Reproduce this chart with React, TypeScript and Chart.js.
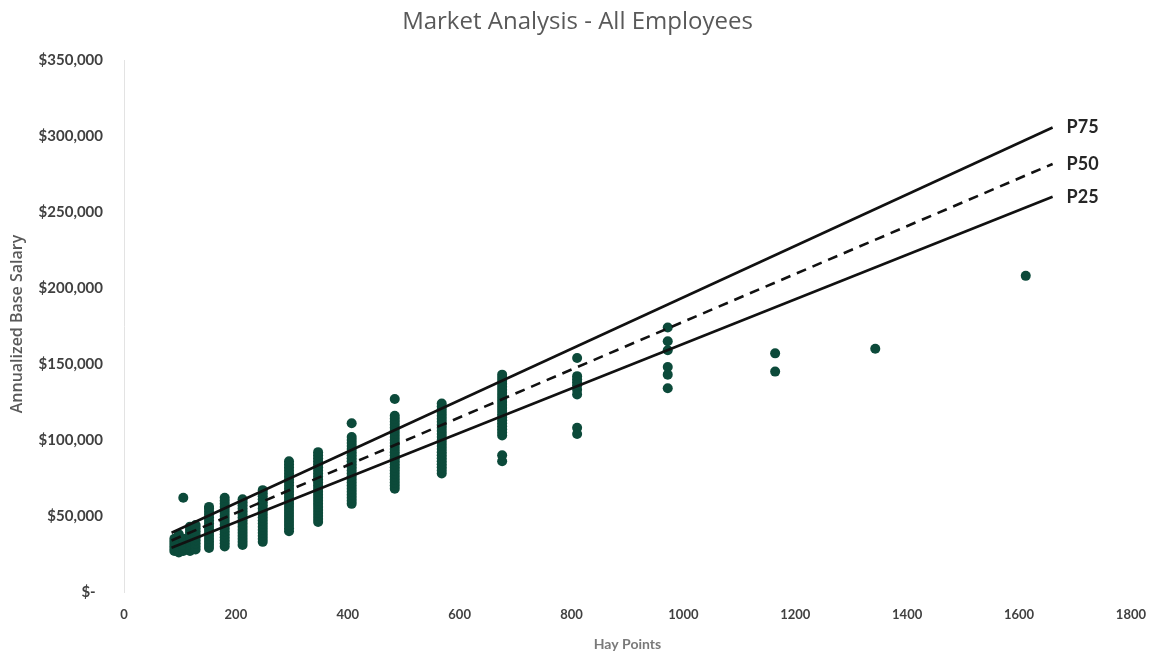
import { useEffect, useRef } from 'react';
import { Chart, registerables } from 'chart.js';

Chart.register(...registerables);

// Text
const chartTitle = 'Market Analysis - All Employees';
const xAxisTitle = 'Hay Points';
const yAxisTitle = 'Annualized Base Salary';

// Axis ranges / tick steps
const xRange = [0, 1800];
const xStep = 200;
const yRange = [0, 350000];
const yStep = 50000;

// Employees grouped by job size (Hay points); salaries in $ thousands
const hayPoints = [90, 98, 106, 118, 128, 152, 180, 212, 248, 295, 347, 407, 484, 568, 676, 810, 972, 1164, 1343, 1612];
const salariesK = [
  [27, 29, 31, 33, 35],
  [26, 28, 30, 32, 34, 36, 38],
  [62, 27, 29, 31, 33, 35],
  [27, 29, 31, 33, 35, 37, 39, 41, 43],
  [28, 30, 32, 34, 36, 38, 40, 42, 44],
  [29, 31, 33, 35, 37, 39, 41, 43, 45, 47, 49, 51, 53, 55, 56],
  [30, 32, 34, 36, 38, 40, 42, 44, 46, 48, 50, 52, 54, 56, 58, 60, 62],
  [31, 33, 35, 37, 39, 41, 43, 45, 47, 49, 51, 53, 55, 57, 59, 61],
  [33, 35, 37, 39, 41, 43, 45, 47, 49, 51, 53, 55, 57, 59, 61, 63, 65, 67],
  [40, 42, 44, 46, 48, 50, 52, 54, 56, 58, 60, 62, 64, 66, 68, 70, 72, 74, 76, 78, 80, 82, 84, 86],
  [46, 48, 50, 52, 54, 56, 58, 60, 62, 64, 66, 68, 70, 72, 74, 76, 78, 80, 82, 84, 86, 88, 90, 92],
  [58, 60, 62, 64, 66, 68, 70, 72, 74, 76, 78, 80, 82, 84, 86, 88, 90, 92, 94, 96, 98, 100, 102, 111],
  [68, 70, 72, 74, 76, 78, 80, 82, 84, 86, 88, 90, 92, 94, 96, 98, 100, 102, 104, 106, 108, 110, 112, 114, 116, 127],
  [78, 80, 82, 84, 86, 88, 90, 92, 94, 96, 98, 100, 102, 104, 106, 108, 110, 112, 114, 116, 118, 120, 122, 124],
  [86, 90, 103, 105, 107, 109, 111, 113, 115, 117, 119, 121, 123, 125, 127, 129, 131, 133, 135, 137, 139, 141, 143],
  [154, 142, 140, 138, 136, 133, 130, 108, 104],
  [174, 165, 159, 148, 143, 134],
  [157, 145],
  [160],
  [208],
];

// Market percentile lines (start and end)
const percentileNames = ['P75', 'P50', 'P25'];
const lineHayPoints = [85, 1660];
const p75Salary = [39000, 305600];
const p50Salary = [33900, 281600];
const p25Salary = [29100, 260000];

const pointColor = '#0c4a3a';
const lineColor = '#111111';

const fmtMoney = (v: number) => (v === 0 ? '$-  ' : '$' + v.toLocaleString('en-US'));

// Chart title, rotated y-axis title and the P-labels at the line ends
const annotations = {
  id: 'annotations',
  afterDatasetsDraw(chart: any) {
    const ctx = chart.ctx;
    ctx.save();
    ctx.font = 'bold 18px Lato';
    ctx.fillStyle = '#262626';
    ctx.textAlign = 'left';
    ctx.textBaseline = 'middle';
    percentileNames.forEach((name, i) => {
      const meta = chart.getDatasetMeta(i);
      const pt = meta.data[meta.data.length - 1];
      if (pt) ctx.fillText(name, pt.x + 14, pt.y);
    });
    ctx.restore();
  },
  afterDraw(chart: any) {
    const ctx = chart.ctx;
    ctx.save();
    ctx.fillStyle = '#595959';
    ctx.textAlign = 'center';
    ctx.textBaseline = 'middle';
    ctx.font = '24px "Open Sans"';
    ctx.fillText(chartTitle, 577.5, 22);

    ctx.translate(17, 324);
    ctx.rotate(-Math.PI / 2);
    ctx.font = '600 16px "Open Sans"';
    ctx.fillText(yAxisTitle, 0, 0);
    ctx.restore();
  },
};

export default function App() {
  const ref = useRef<HTMLCanvasElement | null>(null);

  useEffect(() => {
    if (!ref.current) return;
    const toLine = (vals: number[]) => lineHayPoints.map((x, i) => ({ x, y: vals[i] }));
    const lineSets = [p75Salary, p50Salary, p25Salary].map((vals, i) => ({
      type: 'line' as const,
      label: percentileNames[i],
      data: toLine(vals),
      borderColor: lineColor,
      borderWidth: 2.6,
      borderDash: i === 1 ? [10, 7] : [],
      pointRadius: 0,
      fill: false,
      order: 0,
    }));
    const points = hayPoints.flatMap((x, i) => salariesK[i].map((s) => ({ x, y: s * 1000 })));

    const chart = new Chart(ref.current, {
      type: 'scatter',
      data: {
        datasets: [
          ...lineSets,
          {
            type: 'scatter' as const,
            label: 'Employees',
            data: points,
            backgroundColor: pointColor,
            borderColor: pointColor,
            borderWidth: 0,
            pointRadius: 5,
            order: 1,
          },
        ] as any,
      },
      options: {
        animation: false,
        responsive: true,
        maintainAspectRatio: false,
        layout: { padding: { left: 0, right: 27, top: 60, bottom: 0 } },
        plugins: {
          legend: { display: false },
          tooltip: { enabled: false },
          title: { display: false },
        },
        scales: {
          x: {
            type: 'linear',
            min: xRange[0],
            max: xRange[1],
            grid: { display: false, drawTicks: false },
            border: { display: false },
            ticks: {
              stepSize: xStep,
              color: '#404040',
              padding: 15,
              font: { family: 'Lato', size: 13, weight: 'bold' },
              callback: (v: any) => String(v),
            },
            title: {
              display: true,
              text: xAxisTitle,
              color: '#7a7a7a',
              font: { family: 'Lato', size: 14, weight: 'bold' },
              padding: { top: 0, bottom: 1 },
            },
            afterFit: (scale: any) => {
              scale.height = 62;
            },
          },
          y: {
            type: 'linear',
            min: yRange[0],
            max: yRange[1],
            grid: { display: false, drawTicks: false },
            border: { display: true, color: '#e3e3e3', width: 1 },
            ticks: {
              stepSize: yStep,
              color: '#404040',
              padding: 21,
              font: { family: 'Lato', size: 15, weight: 'bold' },
              callback: (v: any) => fmtMoney(Number(v)),
            },
            afterFit: (scale: any) => {
              scale.width = 124;
            },
          },
        },
      },
      plugins: [annotations],
    });
    return () => chart.destroy();
  }, []);

  return (
    <div style={{ position: 'fixed', left: 0, top: 0, width: 1161, height: 654, background: '#ffffff' }}>
      <canvas ref={ref} />
    </div>
  );
}
